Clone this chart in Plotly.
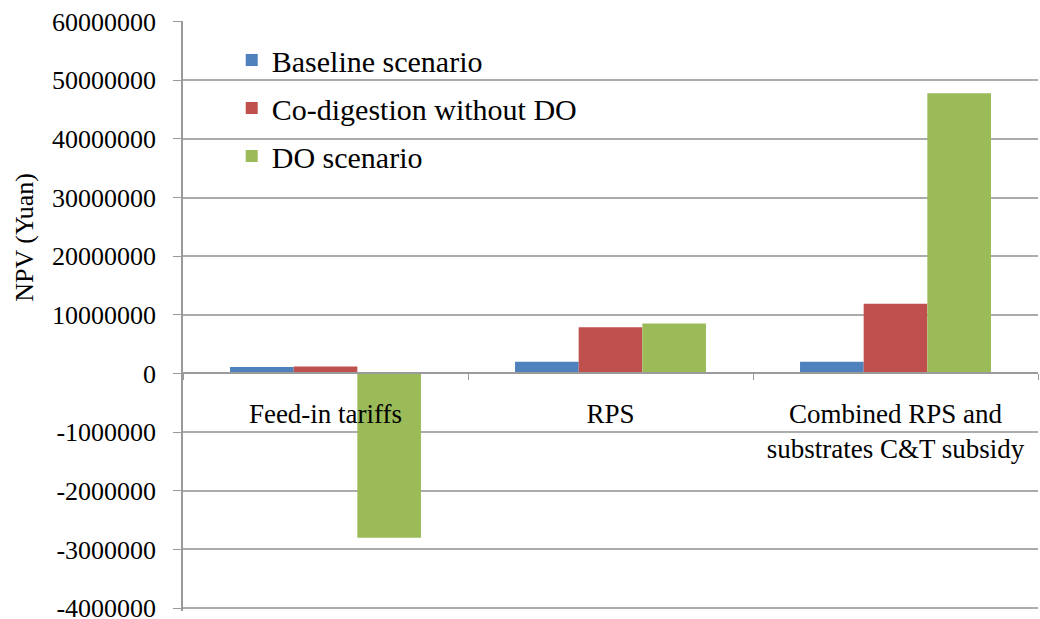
import plotly.graph_objects as go

categories = ["Feed-in tariffs", "RPS", "Combined RPS and<br>substrates C&T subsidy"]
series_names = ["Baseline scenario", "Co-digestion without DO", "DO scenario"]
baseline = [1100000, 2000000, 2000000]
codigestion = [1200000, 7900000, 11900000]
do_scenario = [-28000000, 8500000, 47800000]
colors = ["#4F81BD", "#C0504D", "#9BBB59"]
y_tickvals = [60000000, 50000000, 40000000, 30000000, 20000000, 10000000, 0,
              -10000000, -20000000, -30000000, -40000000]
y_ticktext = ["60000000", "50000000", "40000000", "30000000", "20000000", "10000000", "0",
              "-1000000", "-2000000", "-3000000", "-4000000"]
y_title = "NPV (Yuan)"

FONT = "Times New Roman, Liberation Serif, DejaVu Serif, serif"
Y_MIN, Y_MAX = -40500000, 60100000

fig = go.Figure()
for i, (name, vals) in enumerate(zip(series_names, [baseline, codigestion, do_scenario])):
    fig.add_trace(go.Bar(x=categories, y=vals, name=name, marker_color=colors[i],
                         marker_line_width=0, legendgroup=str(i)))

fig.update_layout(
    width=1040, height=619,
    margin=dict(l=183, r=2, t=21, b=8),
    paper_bgcolor="white", plot_bgcolor="white",
    barmode="group", bargap=0.33, bargroupgap=0,
    font=dict(family=FONT, size=24, color="black"),
    legend=dict(x=0.057, y=0.978, xanchor="left", yanchor="top",
                font=dict(size=30, family=FONT), tracegroupgap=6,
                bgcolor="rgba(0,0,0,0)"),
    showlegend=True,
    annotations=[dict(text=y_title, textangle=-90, xref="paper", yref="paper",
                      x=-0.185, y=0.634, xanchor="center", yanchor="middle",
                      showarrow=False, font=dict(size=26, family=FONT))],
)
fig.update_yaxes(
    range=[Y_MIN, Y_MAX], tickvals=y_tickvals, ticktext=y_ticktext,
    showgrid=True, gridcolor="#ababab", gridwidth=1.5,
    showline=True, linecolor="#9a9a9a", linewidth=1.5,
    ticks="outside", ticklen=8, tickcolor="#9a9a9a",
    tickfont=dict(size=26, family=FONT), ticklabelstandoff=12,
    ticklabeloverflow="allow", automargin=False,
    zeroline=False,
)
fig.update_xaxes(
    anchor="free", position=(0 - Y_MIN) / (Y_MAX - Y_MIN),
    showline=True, linecolor="#9a9a9a", linewidth=1.5,
    ticks="outside", tickson="boundaries", ticklen=6, tickcolor="#9a9a9a",
    tickfont=dict(size=27, family=FONT), ticklabelstandoff=16,
    showgrid=False, automargin=False,
)

fig.write_html("out.html", config={"displayModeBar": False},
               post_script="document.body.style.margin='0';document.body.style.padding='0';")
